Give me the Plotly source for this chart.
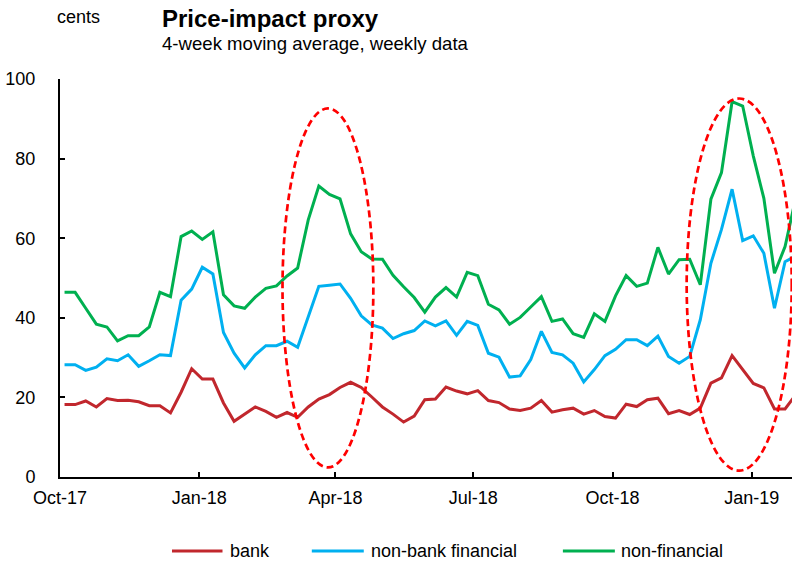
import pandas as pd
import plotly.graph_objects as go

# ---- data (weekly, 4-week moving average, cents) ----
start_date = "2017-10-04"
bank = [18.2, 18.2, 19.1, 17.6, 19.7, 19.2, 19.3, 18.9, 17.9, 17.9,
        16.1, 21.3, 27.2, 24.6, 24.6, 18.6, 14.0, 15.9, 17.6, 16.5,
        15.0, 16.2, 15.0, 17.6, 19.6, 20.7, 22.5, 23.8, 22.5, 20.1,
        17.6, 15.8, 13.8, 15.3, 19.4, 19.6, 22.6, 21.6, 20.9, 21.7,
        19.2, 18.7, 17.1, 16.7, 17.3, 19.2, 16.3, 16.9, 17.3, 15.8,
        16.7, 15.2, 14.8, 18.3, 17.7, 19.4, 19.8, 15.9, 16.7, 15.7,
        17.3, 23.6, 24.9, 30.5, 27.0, 23.5, 22.4, 17.1, 17.1, 20.6]
non_bank_financial = [28.2, 28.2, 26.8, 27.6, 29.7, 29.2, 30.7, 27.8, 29.2, 30.7,
                      30.5, 44.4, 47.2, 52.7, 51.0, 36.3, 31.1, 27.4, 30.7, 33.0,
                      33.0, 34.1, 32.6, 40.5, 47.9, 48.2, 48.5, 44.9, 40.5, 38.2,
                      37.4, 34.8, 36.0, 36.8, 39.2, 38.0, 39.2, 35.6, 39.1, 38.1,
                      31.1, 30.1, 25.1, 25.4, 29.5, 36.6, 31.3, 30.7, 28.6, 23.9,
                      27.0, 30.5, 32.1, 34.5, 34.5, 33.0, 35.4, 30.3, 28.6, 30.3,
                      39.5, 53.7, 62.2, 72.3, 59.4, 60.6, 56.2, 42.4, 54.1, 55.5]
non_financial = [46.4, 46.4, 42.4, 38.4, 37.7, 34.2, 35.5, 35.5, 37.7, 46.4,
                 45.3, 60.4, 61.8, 59.7, 61.6, 45.8, 43.0, 42.4, 45.2, 47.4,
                 48.0, 50.5, 52.5, 64.6, 73.1, 71.0, 69.9, 61.1, 56.6, 54.8,
                 54.7, 50.7, 47.8, 45.1, 41.4, 45.2, 47.6, 45.2, 51.4, 50.6,
                 43.4, 42.0, 38.4, 40.1, 42.7, 45.3, 39.1, 39.7, 36.0, 35.1,
                 41.0, 39.1, 45.5, 50.6, 47.9, 48.7, 57.7, 51.0, 54.6, 54.7,
                 48.3, 69.8, 76.5, 94.3, 93.2, 80.7, 70.0, 51.2, 57.9, 70.0]
dates = pd.date_range(start=start_date, periods=len(bank), freq="7D")

series_names = ["bank", "non-bank financial", "non-financial"]
series_values = [bank, non_bank_financial, non_financial]
series_colors = ["#C1272D", "#00B0F0", "#00B050"]

y_ticks = [0, 20, 40, 60, 80, 100]
x_range = ["2017-10-01", "2019-01-27 14:00"]

# highlighted episodes (dashed ellipses)
episodes = [
    {"x0": "2018-02-25", "x1": "2018-04-26", "y0": 2.4, "y1": 92.6},
    {"x0": "2018-11-19", "x1": "2019-01-27 10:00", "y0": 1.6, "y1": 95.1},
]

FONT = "Liberation Sans, Arial, sans-serif"

fig = go.Figure()
for name, vals, col in zip(series_names, series_values, series_colors):
    fig.add_trace(go.Scatter(x=dates, y=vals, mode="lines", name=name,
                             line=dict(color=col, width=3), showlegend=False))

shapes = []
for ep in episodes:
    shapes.append(dict(type="circle", xref="x", yref="y",
                       x0=ep["x0"], x1=ep["x1"], y0=ep["y0"], y1=ep["y1"],
                       line=dict(color="#FF0000", width=2.7, dash="7px,4px"),
                       layer="above"))

# manual legend (long line samples as in the original)
legend_y = -0.186
legend_items = [(0.153, 0.222, 0.229), (0.344, 0.415, 0.422), (0.687, 0.758, 0.764)]
annotations = []
for (lx0, lx1, tx), name, col in zip(legend_items, series_names, series_colors):
    shapes.append(dict(type="line", xref="paper", yref="paper",
                       x0=lx0, x1=lx1, y0=legend_y, y1=legend_y,
                       line=dict(color=col, width=3)))
    annotations.append(dict(xref="paper", yref="paper", x=tx, y=legend_y,
                            text=name, showarrow=False, xanchor="left",
                            yanchor="middle", font=dict(size=18, color="#000000")))

annotations += [
    dict(xref="paper", yref="paper", x=-0.0068, y=1.156, text="cents",
         showarrow=False, xanchor="left", yanchor="middle",
         font=dict(size=18, color="#000000")),
    dict(xref="paper", yref="paper", x=0.1366, y=1.151,
         text="<b>Price-impact proxy</b>", showarrow=False, xanchor="left",
         yanchor="middle", font=dict(size=24, color="#000000")),
    dict(xref="paper", yref="paper", x=0.1366, y=1.088,
         text="4-week moving average, weekly data", showarrow=False,
         xanchor="left", yanchor="middle", font=dict(size=18.6, color="#000000")),
]

fig.update_layout(
    width=792, height=566,
    margin=dict(l=60, r=0, t=79, b=89, autoexpand=False),
    paper_bgcolor="white", plot_bgcolor="white",
    font=dict(family=FONT, size=18, color="#000000"),
    shapes=shapes, annotations=annotations,
    showlegend=False,
)
fig.update_xaxes(type="date", range=x_range, tick0="2017-10-01", dtick="M3",
                 tickformat="%b-%y", showgrid=False, zeroline=False,
                 showline=True, linecolor="#000000", linewidth=2,
                 ticks="inside", ticklen=5, tickwidth=1.5, tickcolor="#000000",
                 ticklabelstandoff=3, tickfont=dict(size=18), automargin=False)
fig.update_yaxes(range=[0, 100], tickvals=y_ticks, showgrid=False,
                 zeroline=False, showline=True, linecolor="#000000",
                 linewidth=2, ticks="inside", ticklen=5, tickwidth=1.5,
                 tickcolor="#000000", ticklabelstandoff=19,
                 tickfont=dict(size=18), automargin=False)

fig.write_html(
    "out.html",
    config={"displayModeBar": False},
    post_script="document.body.style.margin='0';document.body.style.overflow='hidden';",
)
